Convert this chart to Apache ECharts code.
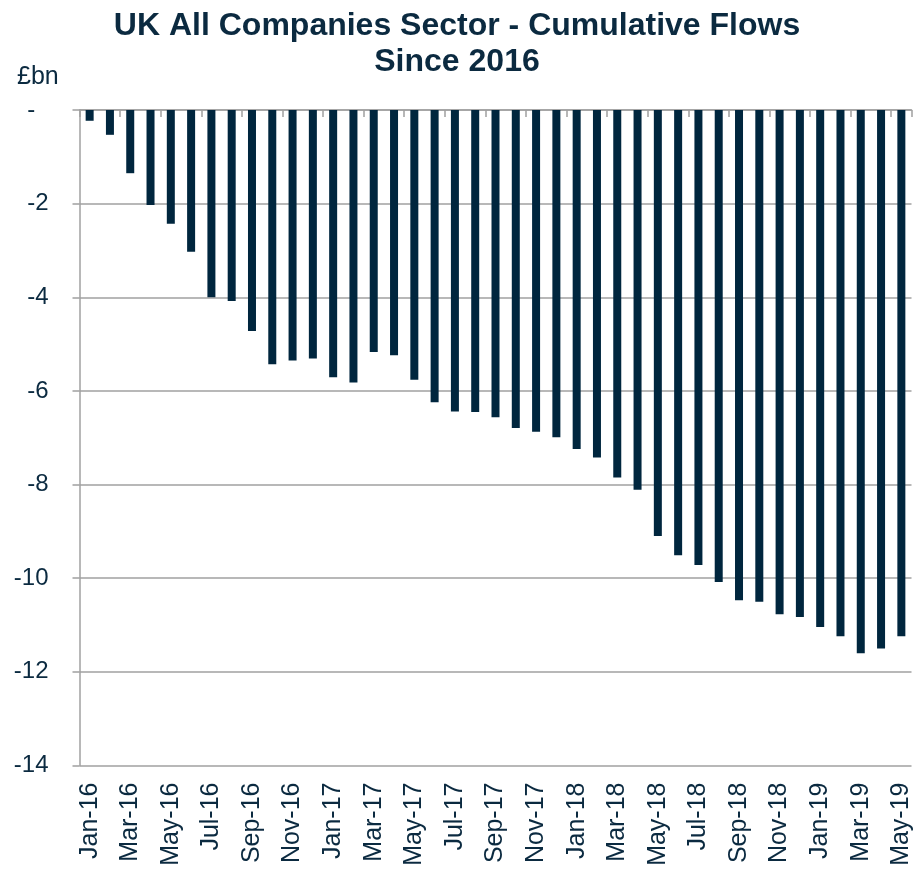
<!DOCTYPE html>
<html>
<head>
<meta charset="utf-8">
<title>UK All Companies Sector - Cumulative Flows</title>
<script src="https://cdn.jsdelivr.net/npm/echarts@6/dist/echarts.min.js"></script>
<style>
  html, body { margin: 0; padding: 0; background: #fff; }
  #chart { width: 914px; height: 871px; }
</style>
</head>
<body>
<div id="chart"></div>
<script>
const months = [
  'Jan-16', 'Feb-16', 'Mar-16', 'Apr-16', 'May-16', 'Jun-16', 'Jul-16', 'Aug-16', 'Sep-16', 'Oct-16', 'Nov-16', 'Dec-16',
  'Jan-17', 'Feb-17', 'Mar-17', 'Apr-17', 'May-17', 'Jun-17', 'Jul-17', 'Aug-17', 'Sep-17', 'Oct-17', 'Nov-17', 'Dec-17',
  'Jan-18', 'Feb-18', 'Mar-18', 'Apr-18', 'May-18', 'Jun-18', 'Jul-18', 'Aug-18', 'Sep-18', 'Oct-18', 'Nov-18', 'Dec-18',
  'Jan-19', 'Feb-19', 'Mar-19', 'Apr-19', 'May-19'
]

// cumulative flows, £bn
const cumulativeFlows = [
  -0.23, -0.53, -1.35, -2.03, -2.43, -3.03, -4.00, -4.08, -4.72, -5.43, -5.35, -5.31,
  -5.71, -5.82, -5.17, -5.24, -5.76, -6.24, -6.44, -6.45, -6.56, -6.79, -6.87, -6.99,
  -7.24, -7.42, -7.85, -8.11, -9.10, -9.51, -9.72, -10.08, -10.47, -10.50, -10.77, -10.83,
  -11.04, -11.24, -11.60, -11.50, -11.24
]

const yTicks = { min: -14, max: 0, step: 2 }

const navy = '#00263e'
const textColor = '#0b2a40'
const gray = '#a0a0a0'
const font = '"Liberation Sans", Arial, sans-serif'

const chart = echarts.init(document.getElementById('chart'))

chart.setOption({
  backgroundColor: '#fff',
  animation: false,
  textStyle: { fontFamily: font },
  title: {
    text: 'UK All Companies Sector - Cumulative Flows\nSince 2016',
    left: 'center',
    top: 3,
    textStyle: {
      color: textColor,
      fontSize: 32,
      fontWeight: 'bold',
      lineHeight: 36,
      fontFamily: font
    }
  },
  graphic: [
    {
      type: 'text',
      left: 17,
      top: 65,
      style: { text: '£bn', fill: textColor, fontSize: 25, fontFamily: font }
    }
  ],
  grid: { left: 79.5, right: 2.5, top: 110, bottom: 105.5 },
  xAxis: [
    {
      type: 'category',
      data: months,
      position: 'bottom',
      axisLine: { show: false },
      axisTick: { show: false },
      axisLabel: {
        interval: 1,
        rotate: 90,
        margin: 17,
        color: textColor,
        fontSize: 25,
        fontFamily: font
      }
    },
    {
      type: 'category',
      data: months,
      position: 'top',
      axisLine: { show: true, lineStyle: { color: gray, width: 1.5 } },
      axisTick: { show: true, inside: true, interval: 1, length: 7, lineStyle: { color: gray, width: 1.5 } },
      axisLabel: { show: false }
    }
  ],
  yAxis: {
    type: 'value',
    min: yTicks.min,
    max: yTicks.max,
    interval: yTicks.step,
    axisLine: { show: true, lineStyle: { color: gray, width: 1.5 } },
    axisTick: { show: true, length: 7, lineStyle: { color: gray, width: 1.5 } },
    splitLine: { show: true, lineStyle: { color: gray, width: 1.5 } },
    axisLabel: {
      margin: 31,
      color: textColor,
      fontSize: 24,
      fontFamily: font,
      formatter: (v) => (v === 0 ? '-  ' : String(v))
    }
  },
  series: [
    {
      name: 'Cumulative flows',
      type: 'bar',
      xAxisIndex: 0,
      data: cumulativeFlows,
      barWidth: 8,
      itemStyle: { color: navy }
    }
  ]
})
</script>
</body>
</html>
